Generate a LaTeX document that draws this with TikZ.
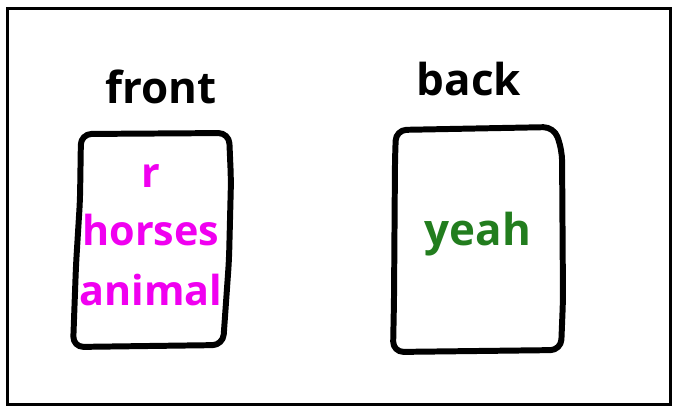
\documentclass[tikz,border=0pt]{standalone}
\usepackage{fontspec}
\setmainfont{Open Sans}
\definecolor{cardmagenta}{RGB}{240,0,240}
\definecolor{cardgreen}{RGB}{34,125,30}
\tikzset{
	card/.style={line width=3.4pt, rounded corners=6, line join=round, line cap=round},
	lbl/.style={anchor=base, inner sep=0pt, font=\fontsize{25}{30}\selectfont\bfseries},
	cardtext/.style={lbl, font=\fontsize{23.5}{30}\selectfont\bfseries},
}
\begin{document}
\begin{tikzpicture}[x=0.02cm, y=-0.02cm, line join=round, line cap=round]
	\useasboundingbox (0,0) rectangle (680,417);
	\draw[line width=1.7pt, line cap=butt, line join=miter] (7.5,8.5) rectangle (670.5,404.5);
	% titles
	\node[lbl] (front) at (161,103) {front};
	\node[lbl] (back) at (469,95) {back};
	% front card
	\draw[card] (81,134) -- (229,133) -- (231,180) -- (229,260) -- (223,345) -- (73,347) -- (76,265) -- (80,200) -- cycle;
	\node[cardtext, text=cardmagenta] (r) at (151,187) {r};
	\node[cardtext, text=cardmagenta] (horses) at (151,245) {horses};
	\node[cardtext, text=cardmagenta] (animal) at (151,305) {animal};
	% back card
	\draw[card] (396,130) -- (554,127) -- (562,150) -- (563,300) -- (561,350) -- (393,352) -- (394,300) -- (395,160) -- cycle;
	\node[lbl, text=cardgreen] (yeah) at (478,245) {yeah};
\end{tikzpicture}
\end{document}
